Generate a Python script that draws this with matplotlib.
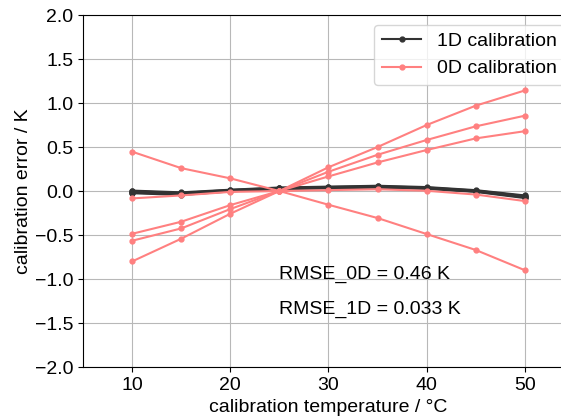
import matplotlib
matplotlib.use("Agg")
import matplotlib.pyplot as plt
import numpy as np

# calibration temperatures (degC)
temps = [10, 15, 20, 25, 30, 35, 40, 45, 50]

# 0D calibration errors (K), one list per sensor
err_0d_a = [0.447, 0.26, 0.144, 0.0, -0.156, -0.307, -0.489, -0.67, -0.90]
err_0d_b = [-0.80, -0.542, -0.258, 0.0, 0.27, 0.50, 0.75, 0.97, 1.143]
err_0d_c = [-0.565, -0.425, -0.205, 0.0, 0.219, 0.412, 0.58, 0.735, 0.856]
err_0d_d = [-0.486, -0.349, -0.16, 0.0, 0.166, 0.325, 0.466, 0.598, 0.68]
err_0d_e = [-0.084, -0.05, -0.01, 0.0, 0.01, 0.02, 0.003, -0.04, -0.114]

# 1D calibration errors (K)
err_1d_a = [-0.025, -0.045, -0.005, 0.025, 0.03, 0.04, 0.025, -0.01, -0.08]
err_1d_b = [-0.01, -0.03, 0.005, 0.03, 0.04, 0.05, 0.035, 0.0, -0.065]
err_1d_c = [0.005, -0.015, 0.015, 0.04, 0.05, 0.06, 0.045, 0.01, -0.05]
err_1d_d = [-0.018, -0.038, 0.002, 0.022, 0.036, 0.043, 0.028, -0.005, -0.072]
err_1d_e = [-0.002, -0.022, 0.012, 0.035, 0.046, 0.054, 0.04, 0.005, -0.058]

rmse_0d = 0.46
rmse_1d = 0.033

plt.rcParams["font.family"] = ["Liberation Sans", "DejaVu Sans"]
plt.rcParams["font.size"] = 14

fig = plt.figure(figsize=(5.61, 4.18), dpi=100)
ax = fig.add_axes([0.148, 0.122, 0.875, 0.842])

black = "#333333"
red = "#ff8080"
for i, err in enumerate([err_1d_a, err_1d_b, err_1d_c, err_1d_d, err_1d_e]):
    ax.plot(temps, err, "o-", color=black, lw=1.5, ms=3.5,
            label="1D calibration" if i == 0 else None, zorder=2)
for i, err in enumerate([err_0d_a, err_0d_b, err_0d_c, err_0d_d, err_0d_e]):
    ax.plot(temps, err, "o-", color=red, lw=1.5, ms=3.5,
            label="0D calibration" if i == 0 else None, zorder=3)

ax.text(25, -1.0, f"RMSE_0D = {rmse_0d:.2f} K")
ax.text(25, -1.4, f"RMSE_1D = {rmse_1d:.3f} K")

ax.set_xlim(5, 55)
ax.set_ylim(-2, 2)
ax.set_xticks([10, 20, 30, 40, 50])
ax.set_yticks(np.arange(-2, 2.01, 0.5))
ax.grid(True, color="#b8b8b8", lw=0.8)
ax.set_axisbelow(True)
ax.set_xlabel("calibration temperature / °C")
ax.set_ylabel("calibration error / K", labelpad=2)
ax.legend(loc="upper right")

fig.savefig("out.png", dpi=100)
